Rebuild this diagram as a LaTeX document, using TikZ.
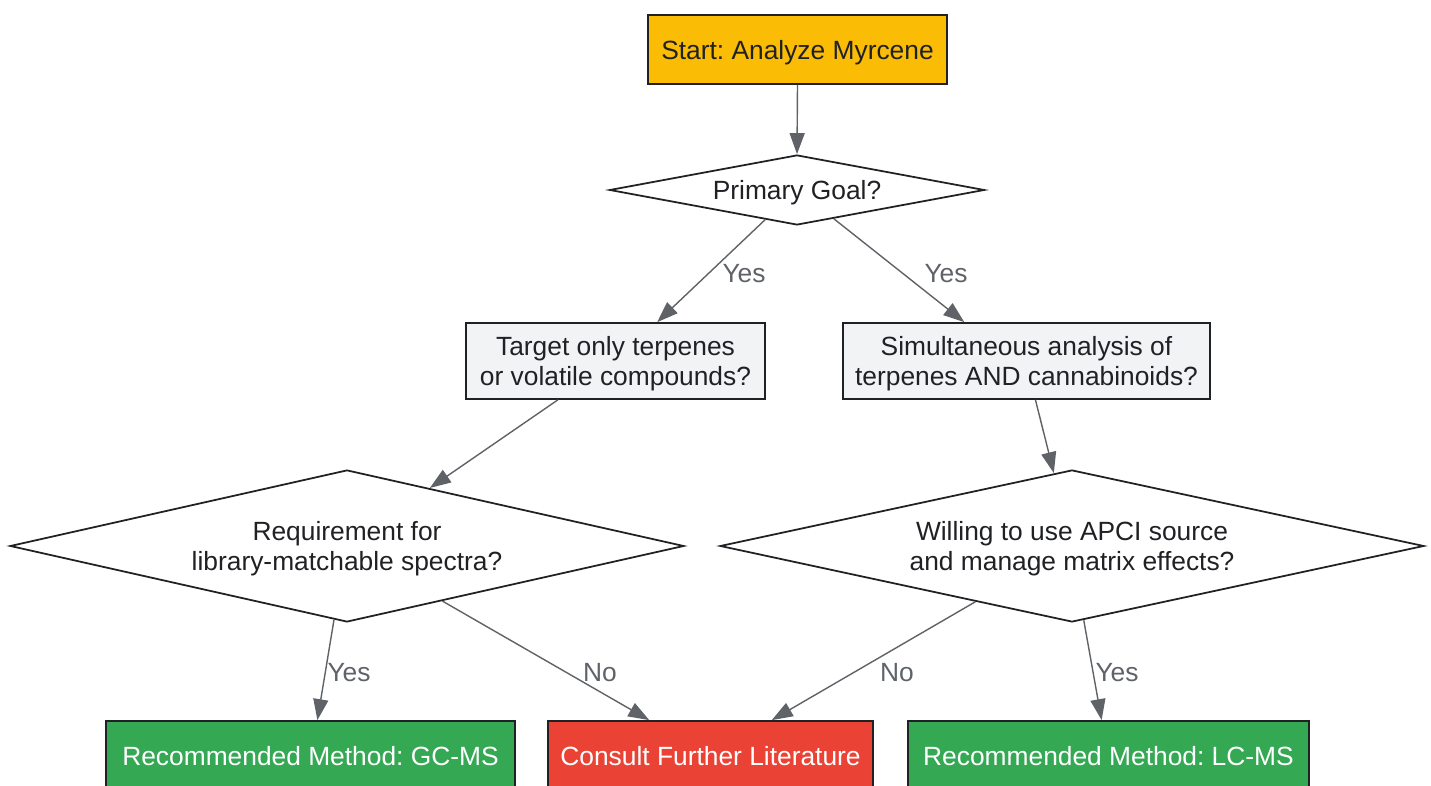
\documentclass[tikz,border=0pt]{standalone}
\usepackage{fontspec}
\setmainfont{Liberation Sans}
\frenchspacing
\usetikzlibrary{shapes.geometric,arrows.meta}
\definecolor{startc}{HTML}{FBBC05}
\definecolor{qfill}{HTML}{F1F3F4}
\definecolor{yesc}{HTML}{34A853}
\definecolor{noc}{HTML}{EA4335}
\definecolor{ink}{HTML}{202124}
\definecolor{wire}{HTML}{5F6368}
\begin{document}
\begin{tikzpicture}[x=0.02cm,y=-0.02cm,
	font=\fontsize{15}{17.5}\selectfont,
	box/.style={draw=ink,line width=1pt,text=ink,align=center,minimum height=1.52cm,inner sep=0pt,text depth=0pt},
	decision/.style={diamond,draw=ink,line width=1pt,fill=white,text=ink,align=center,inner sep=0pt,text depth=0pt},
	edge/.style={draw=wire,line width=0.8pt,-{Triangle[length=0.42cm,width=0.3cm]}},
	lbl/.style={text=wire}]
	\useasboundingbox (0,0) rectangle (1431,786);
	\node[box,fill=startc,minimum width=5.98cm,minimum height=1.38cm] (start) at (797.5,49.5) {Start: Analyze Myrcene};
	\node[decision,minimum width=7.5cm,minimum height=1.4cm,aspect=5.36] (goal) at (797,190) {Primary Goal?};
	\node[box,fill=qfill,minimum width=5.98cm] (target) at (615.5,361) {Target only terpenes\\or volatile compounds?};
	\node[box,fill=qfill,minimum width=7.34cm] (simul) at (1026.5,361) {Simultaneous analysis of\\terpenes AND cannabinoids?};
	\node[decision,minimum width=13.48cm,minimum height=3.04cm,aspect=4.4] (req) at (347,546) {Requirement for\\library-matchable spectra?};
	\node[decision,minimum width=14.08cm,minimum height=3.04cm,aspect=4.6] (will) at (1072,546) {Willing to use APCI source\\and manage matrix effects?};
	\node[box,fill=yesc,text=white,minimum width=8.18cm,minimum height=1.38cm] (gcms) at (310.5,755.5) {Recommended Method: GC-MS};
	\node[box,fill=noc,text=white,minimum width=6.5cm,minimum height=1.38cm] (consult) at (710.5,755.5) {Consult Further Literature};
	\node[box,fill=yesc,text=white,minimum width=8.02cm,minimum height=1.38cm] (lcms) at (1108.5,755.5) {Recommended Method: LC-MS};
	\draw[edge] (start.south) -- (goal.north);
	\draw[edge] (goal.223) -- (target.43);
	\draw[edge] (goal.322) -- (simul.148);
	\draw[edge] (target.214) -- (req.35);
	\draw[edge] (simul.283) -- (will.104);
	\draw[edge] (req.260) -- (gcms.79);
	\draw[edge] (req.330) -- (consult.150);
	\draw[edge] (will.210) -- (consult.30);
	\draw[edge] (will.279) -- (lcms.101);
	\node[lbl] (yesa) at (744,274) {Yes};
	\node[lbl] (yesb) at (946,274) {Yes};
	\node[lbl] (yesc) at (349,673) {Yes};
	\node[lbl] (noa) at (600,673) {No};
	\node[lbl] (nob) at (897,673) {No};
	\node[lbl] (yesd) at (1117,673) {Yes};
\end{tikzpicture}
\end{document}
